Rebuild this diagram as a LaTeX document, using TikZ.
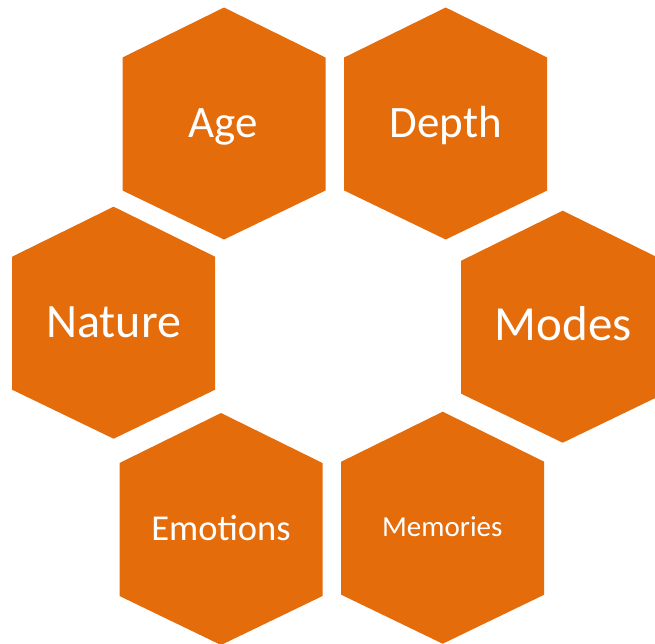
\documentclass[tikz,border=0pt]{standalone}
\usepackage{fontspec}
\setmainfont{Carlito}
\definecolor{hexorange}{HTML}{E46C0A}
\newcommand{\myhex}[3]{% name, center x, top y
  \fill[hexfill] (#2,#3) -- (#2+101.5,#3+50) -- (#2+101.5,#3+183) -- (#2,#3+232)
    -- (#2-101.5,#3+183) -- (#2-101.5,#3+50) -- cycle;
  \coordinate (#1) at (#2,#3+116);
}
\begin{document}
\begin{tikzpicture}[x=1pt,y=-1pt,
  hexfill/.style={fill=hexorange},
  hextext/.style={text=white,anchor=base,inner sep=0pt}]
\useasboundingbox (0,0) rectangle (655,643);
\clip (0,0) rectangle (655,643);
\myhex{age}{224}{7.5}
\myhex{depth}{445.7}{7.5}
\myhex{nature}{113.6}{206.7}
\myhex{modes}{562.7}{210.7}
\myhex{emotions}{221}{413}
\myhex{memories}{442.7}{411.7}
\node[hextext,font=\fontsize{45}{50}\selectfont] (agetxt) at (223.5,137) {Age};
\node[hextext,font=\fontsize{45}{50}\selectfont] (depthtxt) at (445.8,137) {Depth};
\node[hextext,font=\fontsize{48}{54}\selectfont] (naturetxt) at (113.7,337.3) {Nature};
\node[hextext,font=\fontsize{49}{54}\selectfont] (modestxt) at (563.3,340.7) {Modes};
\node[hextext,font=\fontsize{36.5}{40}\selectfont] (emotionstxt) at (221,540) {Emotions};
\node[hextext,font=\fontsize{29}{32}\selectfont] (memoriestxt) at (442.3,536) {Memories};
\end{tikzpicture}
\end{document}
